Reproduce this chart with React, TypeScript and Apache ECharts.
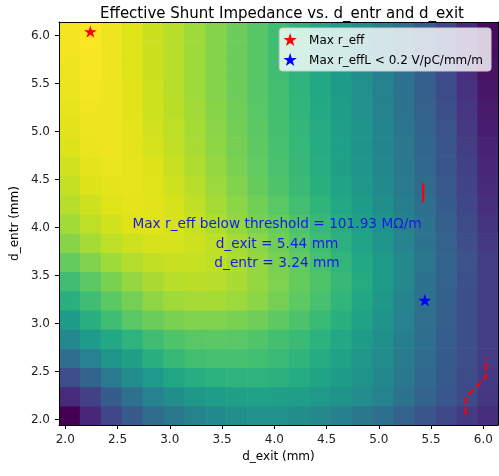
import React, { useEffect, useRef } from "react";
import * as echarts from "echarts";

// d_exit (mm) cell centres (columns) and d_entr (mm) cell centres (rows)
const dExit = [2.04, 2.24, 2.44, 2.64, 2.84, 3.04, 3.24, 3.44, 3.64, 3.84, 4.04, 4.24, 4.44, 4.64, 4.84, 5.04, 5.24, 5.44, 5.64, 5.84, 6.04];
const dEntr = [2.04, 2.24, 2.44, 2.64, 2.84, 3.04, 3.24, 3.44, 3.64, 3.84, 4.04, 4.24, 4.44, 4.64, 4.84, 5.04, 5.24, 5.44, 5.64, 5.84, 6.04];

// normalised r_eff colour level (0 = min, 1 = max), one row per d_entr value (ascending)
const rEffRows: number[][] = [
  [0.00, 0.11, 0.21, 0.285, 0.35, 0.40, 0.445, 0.475, 0.495, 0.50, 0.50, 0.49, 0.465, 0.435, 0.40, 0.36, 0.31, 0.26, 0.215, 0.17, 0.13],
  [0.12, 0.19, 0.29, 0.37, 0.44, 0.49, 0.53, 0.555, 0.57, 0.575, 0.57, 0.56, 0.54, 0.51, 0.48, 0.44, 0.38, 0.32, 0.27, 0.22, 0.16],
  [0.24, 0.32, 0.41, 0.48, 0.54, 0.59, 0.62, 0.64, 0.645, 0.645, 0.635, 0.615, 0.585, 0.55, 0.51, 0.46, 0.40, 0.335, 0.28, 0.225, 0.17],
  [0.36, 0.44, 0.52, 0.57, 0.63, 0.67, 0.695, 0.705, 0.705, 0.695, 0.675, 0.65, 0.615, 0.575, 0.53, 0.48, 0.415, 0.35, 0.29, 0.235, 0.175],
  [0.47, 0.55, 0.60, 0.645, 0.69, 0.72, 0.74, 0.745, 0.74, 0.725, 0.70, 0.675, 0.64, 0.60, 0.55, 0.495, 0.43, 0.36, 0.295, 0.24, 0.18],
  [0.55, 0.63, 0.69, 0.74, 0.775, 0.80, 0.81, 0.81, 0.80, 0.78, 0.75, 0.715, 0.675, 0.63, 0.575, 0.515, 0.44, 0.365, 0.30, 0.24, 0.18],
  [0.63, 0.69, 0.745, 0.79, 0.83, 0.855, 0.865, 0.865, 0.85, 0.825, 0.79, 0.75, 0.705, 0.655, 0.595, 0.53, 0.45, 0.37, 0.305, 0.24, 0.18],
  [0.69, 0.745, 0.80, 0.84, 0.87, 0.89, 0.895, 0.89, 0.87, 0.84, 0.805, 0.765, 0.72, 0.67, 0.61, 0.545, 0.465, 0.385, 0.315, 0.245, 0.18],
  [0.76, 0.81, 0.855, 0.885, 0.905, 0.915, 0.915, 0.90, 0.875, 0.84, 0.80, 0.755, 0.705, 0.655, 0.60, 0.54, 0.47, 0.395, 0.32, 0.25, 0.18],
  [0.82, 0.865, 0.90, 0.925, 0.935, 0.935, 0.925, 0.90, 0.865, 0.825, 0.78, 0.735, 0.685, 0.635, 0.58, 0.52, 0.45, 0.38, 0.31, 0.235, 0.165],
  [0.86, 0.90, 0.93, 0.95, 0.95, 0.94, 0.915, 0.88, 0.84, 0.80, 0.76, 0.715, 0.67, 0.62, 0.57, 0.51, 0.445, 0.375, 0.30, 0.225, 0.15],
  [0.89, 0.925, 0.95, 0.96, 0.955, 0.935, 0.905, 0.865, 0.825, 0.785, 0.74, 0.695, 0.65, 0.60, 0.55, 0.49, 0.43, 0.36, 0.29, 0.21, 0.135],
  [0.91, 0.945, 0.96, 0.965, 0.95, 0.925, 0.89, 0.85, 0.81, 0.765, 0.72, 0.675, 0.63, 0.58, 0.53, 0.47, 0.41, 0.345, 0.275, 0.20, 0.12],
  [0.93, 0.96, 0.97, 0.965, 0.945, 0.915, 0.88, 0.84, 0.80, 0.755, 0.71, 0.67, 0.62, 0.57, 0.52, 0.46, 0.40, 0.335, 0.265, 0.19, 0.11],
  [0.945, 0.97, 0.975, 0.96, 0.935, 0.905, 0.87, 0.83, 0.79, 0.75, 0.705, 0.665, 0.615, 0.565, 0.515, 0.455, 0.395, 0.33, 0.26, 0.18, 0.095],
  [0.955, 0.975, 0.975, 0.96, 0.93, 0.90, 0.865, 0.825, 0.785, 0.745, 0.70, 0.66, 0.61, 0.56, 0.51, 0.45, 0.39, 0.32, 0.25, 0.165, 0.08],
  [0.965, 0.98, 0.975, 0.955, 0.925, 0.895, 0.86, 0.82, 0.78, 0.74, 0.70, 0.655, 0.605, 0.555, 0.505, 0.445, 0.38, 0.31, 0.24, 0.155, 0.07],
  [0.97, 0.985, 0.975, 0.955, 0.925, 0.89, 0.855, 0.815, 0.775, 0.735, 0.695, 0.65, 0.60, 0.55, 0.50, 0.44, 0.375, 0.305, 0.23, 0.145, 0.06],
  [0.975, 0.99, 0.975, 0.95, 0.92, 0.89, 0.855, 0.815, 0.775, 0.735, 0.69, 0.645, 0.60, 0.55, 0.495, 0.435, 0.37, 0.30, 0.22, 0.135, 0.05],
  [0.98, 0.995, 0.975, 0.95, 0.92, 0.89, 0.855, 0.815, 0.775, 0.735, 0.69, 0.645, 0.595, 0.545, 0.49, 0.43, 0.365, 0.295, 0.215, 0.125, 0.04],
  [0.98, 1.00, 0.975, 0.95, 0.92, 0.89, 0.855, 0.815, 0.775, 0.735, 0.69, 0.645, 0.595, 0.545, 0.49, 0.43, 0.365, 0.29, 0.21, 0.12, 0.03],
];

// markers
const maxREff = [2.24, 6.04];
const maxREffBelow = [5.44, 3.24];

// r_effL = 0.2 V/pC/mm/m contour pieces
const contourA = [[5.424, 4.26], [5.424, 4.46]];
const contourB = [[5.831, 2.049], [5.831, 2.2], [5.85, 2.245], [6.01, 2.42], [6.026, 2.46], [6.026, 2.643]];

// axis ticks
const tickValues = [2.0, 2.5, 3.0, 3.5, 4.0, 4.5, 5.0, 5.5, 6.0];
const axisMin = 1.94;
const axisMax = 6.14;

const annotation = ["Max r_eff below threshold = 101.93 MΩ/m", "d_exit = 5.44 mm", "d_entr = 3.24 mm"];

const viridis = [
  "#440154", "#471365", "#482475", "#463480", "#414487", "#3b528b", "#355f8d", "#2f6c8e", "#2a788e", "#25848e", "#21918c",
  "#1e9c89", "#22a884", "#2fb47c", "#44bf70", "#5ec962", "#7ad151", "#9bd93c", "#bddf26", "#dfe318", "#fde725",
];

const STAR = "path://M0,-50 L11.2,-15.5 L47.6,-15.5 L18.2,5.9 L29.4,40.5 L0,19.1 L-29.4,40.5 L-18.2,5.9 L-47.6,-15.5 L-11.2,-15.5 Z";
const FONT = "DejaVu Sans";

export default function App() {
  const ref = useRef<HTMLDivElement>(null);
  useEffect(() => {
    if (!ref.current) return;
    const chart = echarts.init(ref.current, undefined, { renderer: "svg" });
    const cells: number[][] = [];
    rEffRows.forEach((row, j) => row.forEach((v, i) => cells.push([dExit[i], dEntr[j], v])));
    const halfW = (dExit[1] - dExit[0]) / 2;
    const halfH = (dEntr[1] - dEntr[0]) / 2;

    const axisCommon = {
      type: "value",
      min: axisMin,
      max: axisMax,
      z: 5,
      splitLine: { show: false },
      axisLine: { show: true, onZero: false, lineStyle: { color: "#000", width: 1 } },
    };

    chart.setOption({
      animation: false,
      title: {
        text: "Effective Shunt Impedance vs. d_entr and d_exit",
        left: 277,
        top: 0,
        textAlign: "center",
        textStyle: { fontFamily: FONT, fontSize: 15, fontWeight: "normal", color: "#000" },
      },
      grid: { left: 56, right: 1, top: 22, bottom: 51 },
      legend: {
        orient: "vertical",
        right: 8,
        top: 28,
        itemWidth: 28,
        itemHeight: 13,
        itemGap: 7,
        padding: [5, 8, 5, 4],
        backgroundColor: "rgba(255,255,255,0.8)",
        borderColor: "#cccccc",
        borderWidth: 1,
        borderRadius: 3,
        textStyle: { fontFamily: FONT, fontSize: 12, color: "#000" },
        data: [
          { name: "Max r_eff", icon: STAR },
          { name: "Max r_effL < 0.2 V/pC/mm/m", icon: STAR },
        ],
      },
      visualMap: {
        type: "continuous",
        show: false,
        min: 0,
        max: 1,
        dimension: 2,
        seriesIndex: 0,
        inRange: { color: viridis },
      },
      xAxis: [
        {
          ...axisCommon,
          position: "bottom",
          name: "d_exit (mm)",
          nameLocation: "middle",
          nameGap: 25,
          nameTextStyle: { fontFamily: FONT, fontSize: 12, color: "#000" },
          axisTick: { show: true, length: 4, customValues: tickValues, lineStyle: { color: "#000" } },
          axisLabel: {
            customValues: tickValues,
            margin: 8,
            fontFamily: FONT,
            fontSize: 12,
            color: "#222",
            formatter: (v: number) => v.toFixed(1),
          },
        },
        { ...axisCommon, position: "top", axisTick: { show: false }, axisLabel: { show: false } },
      ],
      yAxis: [
        {
          ...axisCommon,
          position: "left",
          name: "d_entr (mm)",
          nameLocation: "middle",
          nameGap: 33,
          nameTextStyle: { fontFamily: FONT, fontSize: 12, color: "#000" },
          axisTick: { show: true, length: 4, customValues: tickValues, lineStyle: { color: "#000" } },
          axisLabel: {
            customValues: tickValues,
            margin: 9,
            fontFamily: FONT,
            fontSize: 12,
            color: "#222",
            formatter: (v: number) => v.toFixed(1),
          },
        },
        { ...axisCommon, position: "right", axisTick: { show: false }, axisLabel: { show: false } },
      ],
      series: [
        {
          type: "custom",
          name: "r_eff",
          xAxisIndex: 0,
          yAxisIndex: 0,
          clip: true,
          silent: true,
          encode: { x: 0, y: 1 },
          data: cells,
          renderItem: (params: any, api: any) => {
            const x = api.value(0);
            const y = api.value(1);
            const p0 = api.coord([x - halfW, y + halfH]);
            const p1 = api.coord([x + halfW, y - halfH]);
            return {
              type: "rect",
              shape: { x: p0[0], y: p0[1], width: p1[0] - p0[0] + 0.6, height: p1[1] - p0[1] + 0.6 },
              style: { fill: api.visual("color"), stroke: null },
            };
          },
        },
        {
          type: "line",
          name: "contourA",
          data: contourA,
          symbol: "none",
          silent: true,
          z: 6,
          lineStyle: { color: "#ff0000", width: 2.2, type: "solid" },
        },
        {
          type: "line",
          name: "contourB",
          data: contourB,
          symbol: "none",
          silent: true,
          z: 6,
          lineStyle: { color: "#ff0000", width: 2.2, type: [7, 3.5] },
        },
        {
          type: "scatter",
          name: "Max r_eff",
          data: [maxREff],
          symbol: STAR,
          symbolSize: 13,
          symbolKeepAspect: true,
          z: 8,
          itemStyle: { color: "#ff0000", opacity: 1 },
        },
        {
          type: "scatter",
          name: "Max r_effL < 0.2 V/pC/mm/m",
          data: [maxREffBelow],
          symbol: STAR,
          symbolSize: 13,
          symbolKeepAspect: true,
          z: 8,
          itemStyle: { color: "#0000ff", opacity: 1 },
        },
      ],
      graphic: [
        {
          type: "text",
          x: 277,
          y: 242.5,
          z: 100,
          style: {
            text: annotation.join("\n"),
            fill: "#1a1ae6",
            font: `13.7px "${FONT}"`,
            lineHeight: 19.3,
            textAlign: "center",
            textVerticalAlign: "middle",
          },
        },
      ],
    });
    return () => chart.dispose();
  }, []);
  return <div ref={ref} style={{ position: "fixed", left: 0, top: 0, width: 499, height: 476 }} />;
}
